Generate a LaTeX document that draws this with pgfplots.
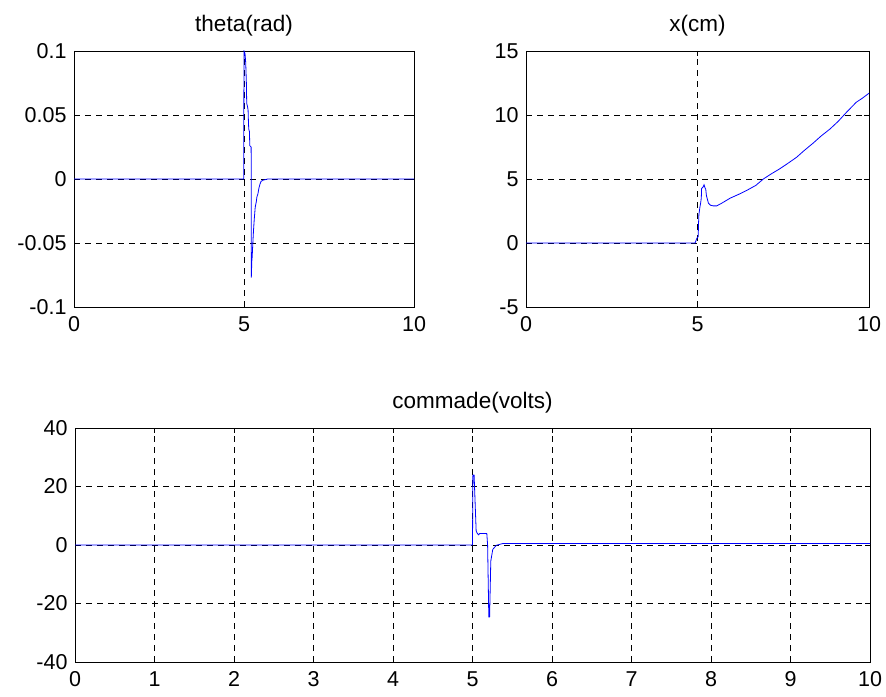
\documentclass[border=0pt]{standalone}
\usepackage{fontspec}
\setmainfont{Liberation Sans}
\usepackage{pgfplots}
\pgfplotsset{compat=1.18}
\begin{document}
\begin{tikzpicture}
\useasboundingbox (0pt,0pt) rectangle (886pt,696pt);
\pgfplotsset{
  every axis/.append style={
    scale only axis,
    font=\fontsize{21.5}{24}\selectfont,
    /pgf/number format/assume math mode=true,
    grid=major,
    major grid style={black, line width=0.6pt, dash pattern=on 6pt off 5pt},
    axis line style={black, line width=0.9pt},
    tick style={black, line width=0.8pt},
    tick align=inside,
    major tick length=5pt,
    xmin=0, xmax=10,
    title style={yshift=5pt, font=\fontsize{22.5}{25}\selectfont},
    xticklabel style={yshift=-6pt},
    yticklabel style={xshift=-4pt},
    clip=true,
  },
}
\begin{axis}[
  at={(74pt,389pt)}, anchor=south west,
  width=340pt, height=256pt,
  ymin=-0.1, ymax=0.1,
  xtick={0,5,10},
  ytick={-0.1,-0.05,0,0.05,0.1},
  yticklabels={-0.1,-0.05,0,0.05,0.1},
  title={theta(rad)},
]
\addplot[blue, line width=0.8pt] coordinates {
(0,0) (4.99,0) (5.0,0.1) (5.03,0.098) (5.05,0.091) (5.07,0.075) (5.08,0.059) (5.10,0.057) (5.12,0.054) (5.13,0.045) (5.14,0.039) (5.16,0.037) (5.17,0.026) (5.21,0.025) (5.215,-0.077) (5.23,-0.064) (5.24,-0.061) (5.26,-0.05) (5.28,-0.040) (5.30,-0.032) (5.33,-0.022) (5.36,-0.018) (5.38,-0.014) (5.41,-0.0115) (5.44,-0.007) (5.47,-0.004) (5.50,-0.002) (5.55,-0.001) (5.70,0) (10,0)
};
\end{axis}
\begin{axis}[
  at={(526pt,389pt)}, anchor=south west,
  width=343pt, height=256pt,
  ymin=-5, ymax=15,
  xtick={0,5,10},
  ytick={-5,0,5,10,15},
  yticklabels={-5,0,5,10,15},
  title={x(cm)},
]
\addplot[blue, line width=0.8pt] coordinates {
(0,0) (4.93,0) (4.98,0.36) (5.02,0.5) (5.03,1.5) (5.04,2.2) (5.07,2.8) (5.09,3.1) (5.11,3.5) (5.12,4.26) (5.17,4.4) (5.19,4.55) (5.22,4.3) (5.24,4.2) (5.26,3.7) (5.28,3.5) (5.32,3.1) (5.38,2.95) (5.46,2.9) (5.56,2.9) (5.7,3.1) (5.95,3.5) (6.2,3.8) (6.43,4.1) (6.7,4.5) (6.92,5.0) (7.15,5.4) (7.40,5.8) (7.65,6.25) (7.89,6.7) (8.1,7.2) (8.37,7.8) (8.6,8.35) (8.86,8.9) (9.1,9.5) (9.34,10.2) (9.63,11.0) (9.8,11.3) (10,11.7)
};
\end{axis}
\begin{axis}[
  at={(75pt,34pt)}, anchor=south west,
  width=795pt, height=234pt,
  ymin=-40, ymax=40,
  xtick={0,1,2,3,4,5,6,7,8,9,10},
  ytick={-40,-20,0,20,40},
  yticklabels={-40,-20,0,20,40},
  title={commade(volts)},
]
\addplot[blue, line width=0.8pt] coordinates {
(0,0) (5.0,0) (5.005,23.9) (5.02,23.9) (5.046,4.8) (5.06,4.0) (5.075,3.5) (5.09,3.9) (5.18,3.9) (5.19,0) (5.205,-24.6) (5.215,-24.6) (5.23,-5.5) (5.255,-1.5) (5.30,-0.1) (5.38,0.5) (10,0.5)
};
\end{axis}
\end{tikzpicture}
\end{document}
